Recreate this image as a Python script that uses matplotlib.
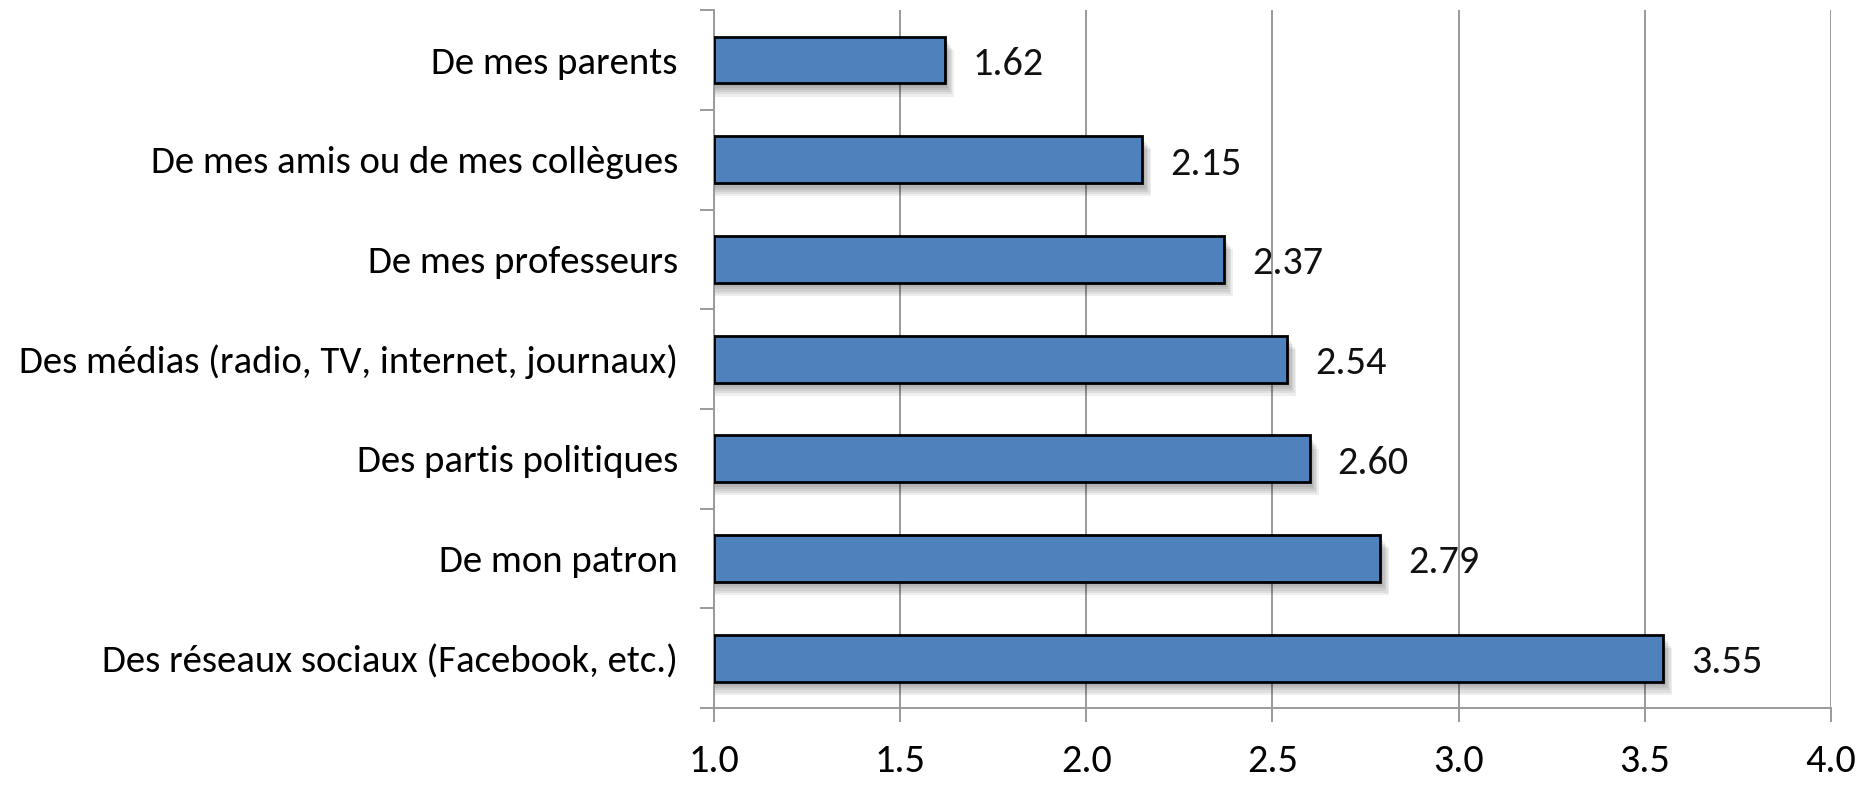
import matplotlib.pyplot as plt
import numpy as np

categories = [
    "De mes parents",
    "De mes amis ou de mes collègues",
    "De mes professeurs",
    "Des médias (radio, TV, internet, journaux)",
    "Des partis politiques",
    "De mon patron",
    "Des réseaux sociaux (Facebook, etc.)",
]
values = [1.62, 2.15, 2.37, 2.54, 2.60, 2.79, 3.55]
xticks = [1.0, 1.5, 2.0, 2.5, 3.0, 3.5, 4.0]

plt.rcParams["font.family"] = ["Carlito", "DejaVu Sans"]

fig = plt.figure(figsize=(18.72, 7.87), dpi=100)
ax = fig.add_axes([0.3814, 0.1004, 0.5966, 0.8866])

y = np.arange(len(categories))
base = xticks[0]
widths = [v - base for v in values]

# soft shadow under each bar
for k in range(1, 7):
    ax.barh(y + 0.022 * k, [w + 0.004 * k for w in widths], left=base, height=0.47,
            color="black", alpha=0.065, linewidth=0, zorder=2)

ax.barh(y, widths, left=base, height=0.47, color="#4F81BD",
        edgecolor="black", linewidth=2.0, zorder=3)

for yi, v in zip(y, values):
    ax.text(v + 0.075, yi + 0.04, f"{v:.2f}", va="center", ha="left",
            fontsize=29, color="#111111", zorder=4)

ax.set_xlim(1.0, 4.0)
ax.set_ylim(len(categories) - 0.5, -0.5)
ax.set_xticks(xticks)
ax.set_xticklabels([f"{t:.1f}" for t in xticks], fontsize=29)
ax.set_yticks(y)
ax.set_yticklabels(categories, fontsize=28)
ax.set_yticks(np.arange(-0.5, len(categories)), minor=True)

ax.grid(axis="x", color="#9a9a9a", linewidth=1.4, zorder=0)
ax.set_axisbelow(True)

for side in ["top", "right"]:
    ax.spines[side].set_visible(False)
for side in ["left", "bottom"]:
    ax.spines[side].set_color("#9a9a9a")
    ax.spines[side].set_linewidth(1.4)

ax.tick_params(axis="x", length=10, width=1.4, color="#9a9a9a", pad=15)
ax.tick_params(axis="y", which="major", length=0, pad=26)
ax.tick_params(axis="y", which="minor", length=10, width=1.4, color="#9a9a9a")

fig.savefig("out.png", dpi=100)
